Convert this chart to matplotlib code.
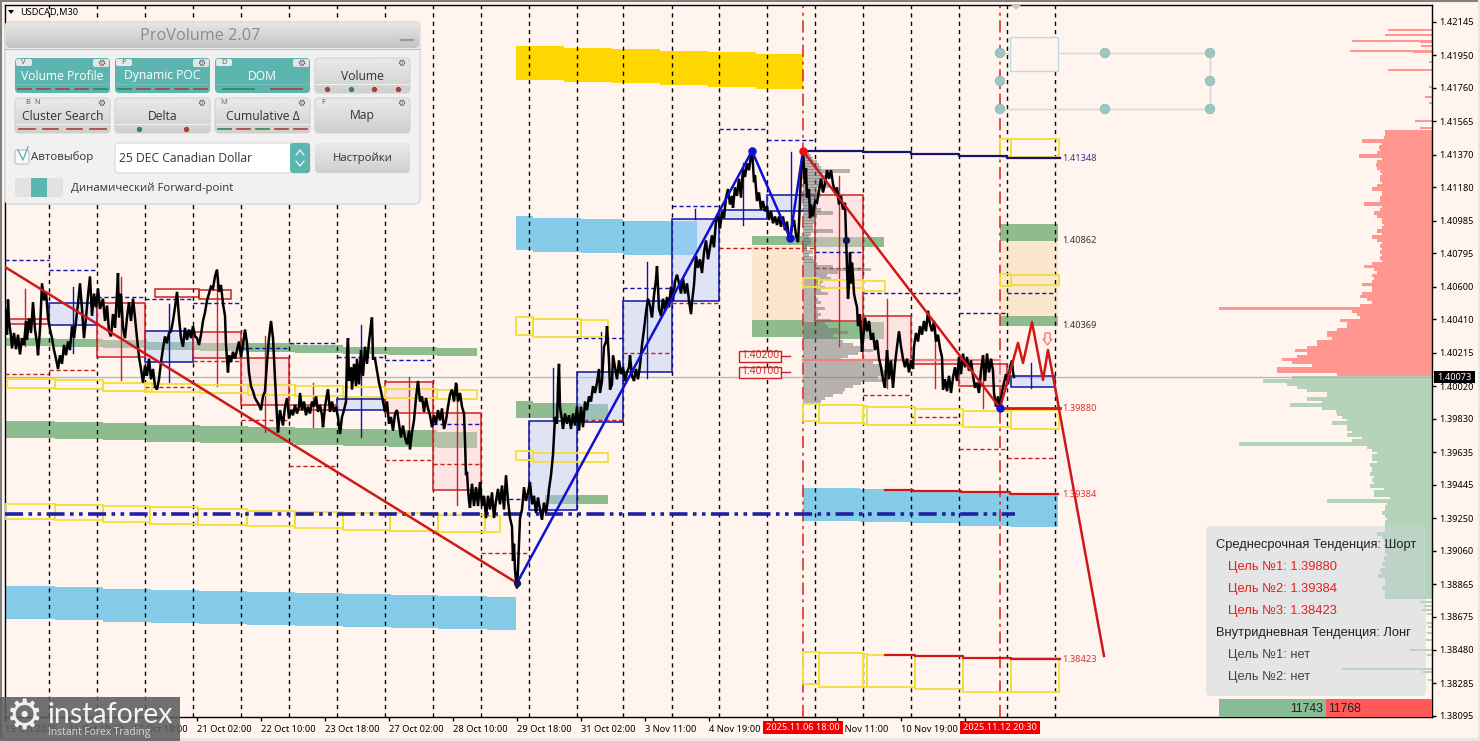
import numpy as np
import matplotlib
matplotlib.use("Agg")
import matplotlib.pyplot as plt
from matplotlib.patches import Rectangle, FancyBboxPatch, Circle, Polygon

# prices are kept as 5 digit points after the "1." (40073 -> 1.40073)
BG = "#FFF5EE"
GREEN = "#8FBC8F"
SKY = "#85CCE9"
GOLD = "#FFD700"
ORANGE = "#FBE8CC"
YELLOW = "#F2DE3A"
NAVY = "#1014A8"
RED = "#D01818"
TEAL = "#5CB6AF"

price_ticks = ["1.42145", "1.41950", "1.41760", "1.41565", "1.41370", "1.41180", "1.40985", "1.40795",
               "1.40600", "1.40410", "1.40215", "1.40020", "1.39830", "1.39635", "1.39445", "1.39250",
               "1.39060", "1.38865", "1.38675", "1.38480", "1.38285", "1.38095"]
time_tick_x = [5, 69, 133, 197, 261, 325, 389, 453, 517, 581, 645, 709, 773, 837, 901, 965]
time_ticks = ["15 Oct 2025", "16 Oct 10:00", "17 Oct 18:00", "21 Oct 02:00", "22 Oct 10:00", "23 Oct 18:00",
              "27 Oct 02:00", "28 Oct 10:00", "29 Oct 18:00", "31 Oct 02:00", "3 Nov 11:00", "4 Nov 19:00",
              "", "6 Nov 11:00", "10 Nov 19:00", ""]
day_lines = [49, 97, 145, 193, 241, 289, 337, 385, 433, 481, 529, 577, 623, 672, 719, 767, 815, 863, 911, 959, 1007, 1055]
session_lines = [803, 1000]

# price line, (column, points)
line_x = [5, 6, 7, 8, 9, 11, 12, 14, 16, 18, 20, 22, 24, 26, 27, 29, 31, 33, 35, 37, 38, 40, 42, 44, 46, 48, 50, 52, 54, 56, 58,
          60, 62, 64, 66, 68, 70, 72, 74, 76, 78, 80, 82, 84, 86, 88, 90, 92, 94, 96, 98, 100, 103, 105, 107, 109, 111, 113, 115,
          117, 118, 119, 121, 123, 125, 127, 129, 131, 133, 135, 137, 139, 141, 143, 145, 147, 149, 151, 153, 155, 157, 159, 161,
          163, 165, 167, 169, 171, 173, 175, 177, 179, 181, 183, 185, 187, 189, 191, 193, 195, 197, 199, 201, 203, 205, 207, 209,
          211, 213, 215, 217, 219, 221, 223, 225, 226, 228, 229, 231, 233, 235, 237, 239, 241, 243, 245, 247, 249, 251, 253, 255,
          257, 259, 261, 263, 265, 267, 269, 271, 273, 275, 276, 277, 278, 280, 282, 283, 285, 287, 289, 291, 293, 295, 297, 299,
          300, 302, 304, 306, 308, 310, 312, 314, 316, 318, 320, 322, 323, 325, 327, 328, 330, 332, 334, 336, 338, 340, 342, 344,
          346, 347, 348, 349, 351, 352, 354, 356, 357, 359, 361, 363, 365, 367, 369, 371, 372, 373, 375, 377, 379, 381, 383, 385,
          387, 389, 391, 393, 395, 397, 399, 401, 403, 405, 407, 409, 410, 412, 414, 416, 418, 420, 422, 424, 426, 428, 430, 432,
          434, 436, 438, 440, 442, 444, 446, 448, 450, 452, 454, 456, 458, 460, 462, 464, 465, 466, 467, 468, 469, 470, 472, 474,
          476, 478, 480, 482, 484, 486, 488, 490, 492, 494, 496, 498, 500, 502, 504, 506, 508, 510, 512, 513, 514, 515, 516, 517,
          518, 520, 522, 524, 526, 528, 530, 532, 534, 536, 538, 540, 542, 544, 546, 548, 549, 551, 553, 555, 557, 558, 559, 560,
          562, 563, 565, 567, 569, 571, 573, 575, 577, 579, 581, 583, 585, 587, 589, 591, 593, 595, 597, 599, 600, 602, 604, 606,
          607, 609, 610, 612, 613, 615, 617, 619, 621, 623, 625, 627, 629, 630, 632, 634, 636, 638, 640, 642, 644, 646, 648, 650,
          652, 654, 656, 657, 659, 661, 663, 665, 667, 669, 671, 673, 675, 677, 679, 681, 683, 685, 687, 689, 691, 692, 694, 696,
          698, 700, 702, 704, 706, 708, 710, 712, 714, 716, 718, 720, 722, 724, 726, 728, 730, 732, 733, 735, 737, 739, 741, 743,
          745, 747, 749, 751, 752, 754, 755, 757, 759, 761, 763, 765, 767, 769, 771, 773, 775, 777, 779, 781, 783, 785, 787, 789,
          790, 792, 794, 796, 798, 799, 800, 801, 802, 803, 804, 805, 806, 807, 809, 810, 811, 813, 815, 817, 819, 821, 823, 825,
          827, 829, 831, 833, 835, 837, 839, 841, 843, 845, 846, 847, 848, 849, 850, 851, 852, 853, 854, 855, 857, 858, 860, 862,
          863, 865, 867, 869, 871, 873, 875, 877, 879, 881, 883, 885, 886, 887, 888, 889, 891, 893, 895, 897, 899, 901, 903, 905,
          907, 909, 911, 913, 914, 916, 918, 920, 922, 924, 926, 928, 930, 932, 934, 936, 938, 940, 942, 943, 945, 947, 949, 951,
          953, 955, 957, 959, 961, 963, 965, 967, 969, 971, 973, 975, 977, 979, 981, 983, 985, 987, 989, 991, 993, 994, 996, 998,
          1000, 1002, 1004, 1006, 1008, 1010, 1012, 1013, 1014]
line_pts = [40360, 40470, 40320, 40525, 40400, 40310, 40240, 40330, 40235, 40320, 40205, 40300, 40260, 40400, 40290, 40415, 40330, 40510, 40350, 40270, 40200, 40350, 40620, 40520, 40570, 40420, 40350, 40300, 40230, 40180, 40120,
            40200, 40150, 40260, 40200, 40280, 40230, 40370, 40300, 40400, 40500, 40620, 40470, 40300, 40420, 40550, 40660, 40430, 40560, 40480, 40590, 40470, 40530, 40400, 40490, 40340, 40310, 40440, 40360,
            40560, 40680, 40420, 40560, 40360, 40300, 40420, 40510, 40400, 40530, 40420, 40300, 40190, 40120, 40040, 40140, 40080, 40180, 40060, 40120, 40020, 40000, 40060, 40160,
            40240, 40310, 40270, 40330, 40340, 40400, 40480, 40570, 40420, 40300, 40250, 40360, 40290, 40350, 40300, 40370, 40310, 40300, 40260, 40320, 40400, 40450, 40520, 40560,
            40600, 40590, 40660, 40700, 40570, 40610, 40500, 40430, 40260, 40100, 40200, 40160, 40220, 40180, 40230, 40280, 40190, 40260, 40350, 40270, 40100, 40020, 39990, 39950,
            39930, 39910, 39880, 39960, 39990, 40160, 40300, 40400, 40300, 40060, 39950, 39840, 39750, 39880, 39820, 39790, 39900, 39950, 39830, 39880, 39850, 39910, 39860, 39900,
            39980, 39880, 39930, 39850, 39900, 39860, 39930, 39900, 39960, 39870, 39910, 39850, 39780, 39900, 39970, 40000, 39870, 39930, 39870, 39900, 39840, 39740, 39840, 39880,
            39930, 40200, 40300, 40050, 40130, 40000, 40150, 40020, 40180, 40030, 40230, 40080, 40250, 40150, 40280, 40380, 40420, 40180, 40180, 40110, 40040, 39990, 39930, 39870,
            39930, 39800, 39840, 39760, 39860, 39880, 39800, 39720, 39790, 39720, 39680, 39760, 39650, 39750, 39820, 39950, 40050, 39930, 39960, 39870, 39950, 39890, 39850, 39780,
            39850, 39800, 39880, 39820, 39890, 39770, 39820, 39900, 39970, 40000, 39930, 40040, 39930, 39980, 39900, 39860, 39700, 39500, 39520, 39420, 39350, 39310, 39450, 39320,
            39430, 39320, 39460, 39320, 39380, 39250, 39380, 39300, 39400, 39250, 39350, 39420, 39330, 39440, 39300, 39500, 39350, 39250, 39200, 39000, 39100, 38950, 38880, 38840,
            38950, 39250, 39300, 39430, 39350, 39400, 39460, 39330, 39380, 39280, 39370, 39300, 39240, 39340, 39280, 39360, 39420, 39500, 39620, 39840, 39800, 40030, 40150, 39900,
            39820, 39770, 39860, 39800, 39850, 39770, 39860, 39790, 39900, 39760, 39900, 39780, 39930, 39880, 39960, 39930, 40020, 39980, 40040, 40120, 39980, 40050, 40250, 40280,
            40370, 40170, 40000, 40030, 40200, 40130, 40060, 40170, 40090, 40130, 40050, 40100, 40130, 40200, 40080, 40050, 40120, 40060, 40140, 40260, 40350, 40450, 40530, 40490,
            40420, 40550, 40640, 40720, 40470, 40430, 40530, 40460, 40540, 40480, 40600, 40520, 40630, 40670, 40620, 40560, 40650, 40560, 40620, 40520, 40440, 40510, 40610, 40780,
            40710, 40760, 40680, 40800, 40870, 40760, 40830, 40900, 40830, 40990, 41010, 40940, 41040, 41000, 41120, 41170, 41080, 41130, 41060, 41180, 41130, 41230, 41120, 41290,
            41240, 41320, 41280, 41370, 41410, 41210, 41250, 41100, 41150, 41050, 41100, 41040, 41070, 40990, 41040, 40970, 41010, 40960, 41010, 40950, 41010, 40930, 40980, 40880,
            40870, 40950, 40990, 40900, 40860, 40970, 41100, 41270, 41330, 41400, 41280, 41200, 41290, 41120, 41170, 41000, 41080, 41010, 41100, 41090, 41160, 41230, 41150, 41200,
            41280, 41230, 41280, 41200, 41150, 41180, 41080, 41130, 41050, 41090, 40900, 40720, 40530, 40620, 40800, 40620, 40740, 40660, 40560, 40530, 40480, 40370, 40440, 40220,
            40290, 40420, 40340, 40400, 40290, 40330, 40230, 40290, 40180, 40130, 40060, 40010, 40130, 40230, 40160, 40060, 40170, 40010, 40150, 40250, 40340, 40250, 40180, 40130,
            40180, 40100, 40170, 40120, 40250, 40330, 40280, 40370, 40320, 40400, 40340, 40460, 40380, 40340, 40400, 40280, 40320, 40240, 40190, 40000, 40060, 39990, 40080, 39980,
            40070, 40130, 40050, 40190, 40090, 40210, 40130, 40190, 40110, 40170, 40080, 40010, 40040, 39980, 40110, 40200, 40050, 40210, 40100, 40180, 40110, 39980, 39900, 39960,
            39890, 39990, 40040, 40090, 40030, 40130, 40170, 40100, 40073]

# stepped zones: column edges, top and bottom of each step
green_a_x = [5, 55, 103, 147, 200, 248, 295, 343, 388, 437, 477]
green_a_top = [40301, 40295, 40289, 40278, 40272, 40272, 40260, 40248, 40248, 40242]
green_a_bot = [40254, 40248, 40242, 40231, 40225, 40219, 40213, 40207, 40202, 40196]
green_b_x = [5, 55, 103, 147, 200, 248, 295, 343, 388, 437, 477]
green_b_top = [39816, 39811, 39805, 39793, 39787, 39781, 39776, 39770, 39764, 39752]
green_b_bot = [39717, 39711, 39706, 39694, 39688, 39688, 39676, 39671, 39665, 39659]
sky_c_x = [5, 55, 103, 151, 199, 247, 295, 343, 391, 438, 487, 516]
sky_c_top = [38853, 38848, 38836, 38830, 38824, 38818, 38813, 38807, 38801, 38795, 38789]
sky_c_bot = [38661, 38655, 38643, 38637, 38632, 38626, 38620, 38614, 38608, 38603, 38597]
gold_x = [516, 564, 612, 660, 708, 756, 803]
gold_top = [42005, 41993, 41987, 41976, 41970, 41958]
gold_bot = [41807, 41795, 41789, 41777, 41766, 41754]
sky_d_x = [516, 533, 581, 623, 697]
sky_d_top = [41013, 41001, 40995, 40984]
sky_d_bot = [40814, 40803, 40797, 40785]
sky_e_x = [803, 860, 910, 960, 1010, 1058]
sky_e_top = [39425, 39420, 39414, 39408, 39396]
sky_e_bot = [39233, 39227, 39221, 39204, 39198]
green_c_x = [516, 533, 580, 608]
green_c_top = [39933, 39921, 39916]
green_c_bot = [39834, 39834, 39822]
green_d_x = [545, 608]
green_d_top = [39385]
green_d_bot = [39332]
green_e_x = [752, 803, 884]
green_e_top = [40896, 40890]
green_e_bot = [40844, 40832]
green_f_x = [752, 803, 884]
green_f_top = [40406, 40394]
green_f_bot = [40307, 40295]
green_g_x = [1000, 1058]
green_g_top = [40966]
green_g_bot = [40867]
green_h_x = [1000, 1058]
green_h_top = [40429]
green_h_bot = [40371]
orange_a = [752, 803, 40838, 40406]
orange_b = [1000, 1058, 40867, 40429]

# candle style boxes: left, right, top, bottom, wick column, wick top, wick bottom
blue_boxes = [[49, 97, 40505, 40377, 73, 40598, 40213], [145, 193, 40342, 40161, 169, 40499, 40044],
              [337, 385, 39945, 39881, 361, 40377, 39723], [529, 577, 39816, 39297, 553, 40126, 39816],
              [577, 623, 40103, 39811, 601, 40336, 40103], [623, 672, 40517, 40103, 647, 40744, 40068],
              [672, 719, 40995, 40517, 695, 41054, 40995], [719, 767, 41048, 40995, 743, 41322, 40960],
              [767, 815, 41135, 41042, 791, 41386, 40873], [1011, 1055, 40079, 40015, 1031, 40155, 40009]]
red_boxes = [[5, 49, 40412, 40383, 25, 40587, 40254], [97, 145, 40505, 40190, 121, 40657, 40056],
             [193, 241, 40336, 40184, 217, 40651, 40021], [241, 289, 40184, 39910, 265, 40312, 39752],
             [289, 337, 39910, 39881, 313, 40039, 39781], [385, 433, 40044, 39863, 409, 40073, 39694],
             [433, 481, 39863, 39414, 457, 40033, 39326], [815, 863, 41135, 40400, 839, 41246, 40254],
             [863, 911, 40429, 40172, 887, 40529, 40009], [911, 959, 40172, 40149, 935, 40365, 40009],
             [959, 1007, 40149, 40021, 983, 40202, 39892]]
red_open = [[155, 199, 40587, 40540], [199, 231, 40581, 40529]]

yellow_boxes = [[7, 55, 40062, 40009], [55, 103, 40056, 40004], [103, 152, 40039, 39992], [145, 200, 40033, 39986],
                [200, 248, 40027, 39980], [248, 295, 40027, 39968], [295, 343, 40021, 39963], [343, 385, 40016, 39957],
                [385, 437, 40004, 39951], [437, 477, 39998, 39945],
                [5, 55, 39332, 39245], [55, 103, 39326, 39239], [103, 150, 39320, 39227], [150, 198, 39315, 39215],
                [198, 247, 39303, 39210], [247, 295, 39291, 39204], [295, 343, 39285, 39192], [343, 390, 39280, 39180],
                [390, 438, 39280, 39175], [438, 485, 39268, 39169], [485, 500, 39262, 39169],
                [516, 533, 40423, 40318], [533, 581, 40412, 40307], [581, 608, 40406, 40307],
                [516, 533, 39641, 39589], [533, 608, 39630, 39577],
                [803, 819, 40651, 40598], [819, 863, 40639, 40593], [863, 885, 40633, 40575],
                [803, 819, 39916, 39816], [819, 863, 39910, 39805], [863, 867, 39904, 39798], [867, 915, 39898, 39793],
                [915, 963, 39887, 39793], [963, 1011, 39875, 39781], [1011, 1059, 39881, 39770],
                [1000, 1011, 41462, 41357], [1011, 1059, 41462, 41357], [1000, 1011, 40674, 40604], [1011, 1059, 40669, 40610],
                [803, 819, 38468, 38282], [819, 863, 38462, 38264], [863, 867, 38456, 38264], [867, 915, 38451, 38264],
                [915, 963, 38445, 38252], [963, 1011, 38433, 38235], [1011, 1059, 38433, 38235]]

blue_dash = [[5, 49, 40756], [49, 97, 40698], [97, 145, 40540], [145, 193, 40529], [193, 241, 40505], [241, 289, 40242],
             [289, 337, 40272], [337, 385, 40190], [385, 433, 40172], [433, 481, 39799], [481, 529, 39361], [577, 623, 40301],
             [623, 672, 40593], [672, 719, 41071], [719, 767, 41521], [767, 815, 41456], [815, 863, 40803], [863, 959, 40563],
             [959, 1007, 40447], [1007, 1055, 40563]]
red_dash = [[5, 49, 40091], [49, 97, 40115], [145, 193, 40015], [193, 241, 40167], [241, 289, 39822], [289, 337, 39554],
            [385, 433, 39589], [433, 481, 39565], [481, 529, 39046], [577, 623, 39822], [623, 672, 40213], [672, 719, 40505],
            [719, 815, 40826], [815, 863, 40709], [863, 911, 39968], [911, 959, 39840], [959, 1007, 39653], [1007, 1055, 39601]]

# trend lines
down_a_x = [5, 517]
down_a_pts = [40715, 38871]
up_x = [517, 752, 790, 803]
up_pts = [38871, 41392, 40884, 41392]
down_b_x = [803, 1000]
down_b_pts = [41392, 39892]
forecast_x = [1000, 1018, 1023, 1032, 1043, 1048, 1055, 1104]
forecast_pts = [39892, 40272, 40155, 40394, 40056, 40231, 40015, 38445]

level_41348_x = [803, 863, 911, 959, 1007, 1060]
level_41348 = [41392, 41386, 41374, 41363, 41351]
level_39384_x = [885, 913, 961, 1010, 1058]
level_39384 = [39414, 39408, 39402, 39390]
level_38423_x = [885, 915, 963, 1011, 1060]
level_38423 = [38451, 38445, 38433, 38427]
level_39880 = [1000, 1060, 39892]
poc_line = [803, 1000, 40172]
dashdot_level = [5, 1015, 39274]
current_pts = 40073
level_labels = [("1.41348", 41351, "#3A3A88"), ("1.40862", 40867, "#333333"), ("1.40369", 40371, "#333333"),
                ("1.39880", 39892, "#E03030"), ("1.39384", 39390, "#E03030"), ("1.38423", 38427, "#E03030")]

# volume profiles, one row every 3 pixels going down
gray_start, red_start, green_start, vol_step = 41398, 41503, 40067, 17.5
gray_vol = [2, 6, 8, 10, 14, 16, 18, 47, 20, 22, 24, 22, 26, 14, 16, 18, 14, 10, 12, 14, 18, 30, 14, 12, 12, 10, 10, 30, 8, 6, 8, 8,
            4, 4, 10, 6, 10, 12, 14, 30, 68, 35, 24, 28, 20, 18, 22, 18, 25, 12, 15, 18, 12, 22, 15, 18, 15, 28, 22, 25, 35, 45, 30,
            35, 40, 50, 60, 70, 55, 45, 38, 70, 78, 80, 82, 82, 75, 80, 58, 50, 42, 40, 30, 22, 18]
red_vol = [47, 47, 48, 70, 50, 53, 52, 55, 73, 50, 55, 56, 55, 52, 50, 52, 52, 50, 55, 60, 50, 50, 52, 52, 68, 50, 52, 58, 55, 50, 50,
           48, 50, 55, 50, 60, 55, 50, 52, 50, 52, 50, 52, 50, 60, 68, 58, 55, 60, 58, 60, 70, 60, 60, 70, 72, 65, 60, 72, 213, 80,
           75, 72, 92, 85, 85, 95, 105, 105, 100, 115, 115, 125, 137, 125, 135, 150, 140, 120, 155, 155, 95]
green_vol = [140, 169, 145, 135, 125, 105, 105, 125, 110, 142, 110, 96, 95, 90, 85, 100, 85, 85, 80, 85, 70, 80, 193, 65, 60, 55, 60,
             60, 55, 62, 60, 60, 62, 58, 60, 58, 62, 48, 58, 58, 42, 105, 45, 47, 47, 50, 47, 45, 47, 47, 47, 47, 55, 50, 48, 46, 48,
             47, 47, 45, 48, 47, 50, 47, 52, 50, 54, 47, 47, 47, 50, 47, 47, 47]
red_sparse_pts = [42098, 42069, 42034, 42028, 42005, 41976, 41970, 41912, 41865, 41766, 41707, 41672, 41567, 41526]
red_sparse_vol = [44, 47, 80, 12, 11, 82, 19, 3, 44, 3, 7, 3, 17, 12]
green_sparse_pts = [38783, 38760, 38737, 38713, 38690, 38638, 38614, 38579, 38538, 38480, 38451, 38369, 38352, 38305]
green_sparse_vol = [10, 12, 8, 10, 5, 5, 4, 5, 6, 22, 5, 90, 10, 4]


def pr(v):
    return 1 + np.asarray(v, dtype=float) / 100000


fig = plt.figure(figsize=(14.8, 7.41), dpi=100, facecolor=BG)
plt.rcParams["font.family"] = ["Noto Sans", "DejaVu Sans"]
ax = fig.add_axes([5 / 1480, 1 - 717 / 741, 1427 / 1480, 712 / 741], facecolor=BG)
ax.set_xlim(5, 1432)
ax.set_ylim(pr(38089), pr(42244))


def zone(xs, tops, bots, color=GREEN, z=1):
    for i in range(len(tops)):
        ax.add_patch(Rectangle((xs[i], pr(bots[i])), xs[i + 1] - xs[i], pr(tops[i]) - pr(bots[i]),
                               fc=color, ec="none", zorder=z))


zone(green_a_x, green_a_top, green_a_bot)
zone(green_b_x, green_b_top, green_b_bot)
zone(sky_c_x, sky_c_top, sky_c_bot, SKY)
zone(gold_x, gold_top, gold_bot, GOLD)
zone(sky_d_x, sky_d_top, sky_d_bot, SKY)
zone(sky_e_x, sky_e_top, sky_e_bot, SKY)
zone(green_c_x, green_c_top, green_c_bot)
zone(green_d_x, green_d_top, green_d_bot)
zone(green_e_x, green_e_top, green_e_bot)
zone(green_f_x, green_f_top, green_f_bot)
zone(green_g_x, green_g_top, green_g_bot)
zone(green_h_x, green_h_top, green_h_bot)
zone(orange_a[:2], orange_a[2:3], orange_a[3:], ORANGE)
zone(orange_b[:2], orange_b[2:3], orange_b[3:], ORANGE)

# right hand volume, rows touch each other so they read as one block
row_h = pr(vol_step * 1.05) - 1
thin_h = pr(vol_step * 0.6) - 1
ax.barh(pr(red_start - vol_step * np.arange(len(red_vol))), red_vol, left=1432 - np.array(red_vol),
        height=row_h, color="#FF9690", ec="none", zorder=1)
ax.barh(pr(green_start - vol_step * np.arange(len(green_vol))), green_vol, left=1432 - np.array(green_vol),
        height=row_h, color="#B5D3B8", ec="none", zorder=1)
ax.barh(pr(red_sparse_pts), red_sparse_vol, left=1432 - np.array(red_sparse_vol), height=thin_h, color="#FF9690", ec="none", zorder=1)
ax.barh(pr(green_sparse_pts), green_sparse_vol, left=1432 - np.array(green_sparse_vol), height=thin_h, color="#B5D3B8", ec="none", zorder=1)

for x in day_lines:
    ax.axvline(x, color="black", lw=1, ls=(0, (3, 3)), zorder=2)
for x in session_lines:
    ax.axvline(x, color="#D82020", lw=1.1, ls=(0, (8, 3, 2, 3)), zorder=2)
ax.axhline(pr(current_pts), color="#B8B8B8", lw=1, zorder=2)

for b in blue_boxes:
    ax.add_patch(Rectangle((b[0], pr(b[3])), b[1] - b[0], pr(b[2]) - pr(b[3]), fc="#B1CAFF", alpha=0.4, ec="none", zorder=3))
    ax.add_patch(Rectangle((b[0], pr(b[3])), b[1] - b[0], pr(b[2]) - pr(b[3]), fc="none", ec=NAVY, lw=1.1, zorder=3))
    ax.plot([b[4], b[4]], [pr(b[5]), pr(b[6])], color=NAVY, lw=1, zorder=3)
for b in red_boxes:
    ax.add_patch(Rectangle((b[0], pr(b[3])), b[1] - b[0], pr(b[2]) - pr(b[3]), fc="#FAC8D2", alpha=0.4, ec="none", zorder=3))
    ax.add_patch(Rectangle((b[0], pr(b[3])), b[1] - b[0], pr(b[2]) - pr(b[3]), fc="none", ec="#CC2222", lw=1.1, zorder=3))
    ax.plot([b[4], b[4]], [pr(b[5]), pr(b[6])], color="#CC2222", lw=1, zorder=3)
for b in red_open:
    ax.add_patch(Rectangle((b[0], pr(b[3])), b[1] - b[0], pr(b[2]) - pr(b[3]), fc="none", ec="#CC2222", lw=1.1, zorder=3))

for d in blue_dash:
    ax.plot(d[:2], pr([d[2], d[2]]), color=NAVY, lw=1, ls=(0, (3, 2)), zorder=3)
for d in red_dash:
    ax.plot(d[:2], pr([d[2], d[2]]), color="#C02020", lw=1, ls=(0, (3, 2)), zorder=3)

# gray profile from the session line
ax.barh(pr(gray_start - vol_step * np.arange(len(gray_vol))), gray_vol, left=803,
        height=row_h, color="#707070", ec="none", alpha=0.5, zorder=3)

ax.plot(poc_line[:2], pr([poc_line[2]] * 2), color="#F08080", lw=1.6, zorder=3)
for b in yellow_boxes:
    ax.add_patch(Rectangle((b[0], pr(b[3])), b[1] - b[0], pr(b[2]) - pr(b[3]), fc="none", ec=YELLOW, lw=1.3, zorder=4))

ax.plot(dashdot_level[:2], pr([dashdot_level[2]] * 2), color="#2020A0", lw=2.6, ls=(0, (5, 1.5, 1, 1.5, 1, 1.5)), zorder=4)
ax.plot(line_x, pr(line_pts), color="black", lw=1.8, solid_joinstyle="miter", zorder=5)

ax.plot(down_a_x, pr(down_a_pts), color=RED, lw=1.8, zorder=6)
ax.plot(up_x, pr(up_pts), color="#1010D0", lw=1.8, zorder=6)
ax.plot(down_b_x, pr(down_b_pts), color=RED, lw=1.8, zorder=6)
ax.plot(forecast_x, pr(forecast_pts), color=RED, lw=1.8, zorder=6)
ax.step(level_41348_x, pr(level_41348 + level_41348[-1:]), where="post", color="#14146E", lw=1.6, zorder=6)
ax.step(level_39384_x, pr(level_39384 + level_39384[-1:]), where="post", color=RED, lw=1.6, zorder=6)
ax.step(level_38423_x, pr(level_38423 + level_38423[-1:]), where="post", color=RED, lw=1.6, zorder=6)
ax.plot(level_39880[:2], pr([level_39880[2]] * 2), color=RED, lw=2, zorder=6)
ax.scatter([752, 790, 1000], pr([41392, 40884, 39892]), s=26, color="#1010D0", zorder=7)
ax.scatter([803], pr([41392]), s=26, color="#F01010", zorder=7)
ax.scatter([517, 846], pr([38871, 40872]), s=18, color="#12125A", zorder=7)

for txt, v, c in level_labels:
    ax.text(1062, pr(v), txt, color=c, fontsize=6.6, va="center", ha="left", zorder=7)

ax.yaxis.tick_right()
tick_vals = [int(t[2:]) for t in price_ticks]
ax.set_yticks(pr(tick_vals), price_ticks)
ax.set_xticks(time_tick_x, time_ticks, ha="left")
ax.tick_params(axis="y", length=3, width=1, labelsize=6.6, pad=2)
ax.tick_params(axis="x", length=3, width=1, labelsize=6.7, pad=2.5)
for sp in ax.spines.values():
    sp.set_linewidth(1)

# overlay in screen pixels for panels and labels
ui = fig.add_axes([0, 0, 1, 1], facecolor="none")
ui.set_xlim(0, 1480)
ui.set_ylim(741, 0)
ui.axis("off")


def rrect(x0, y0, x1, y1, fc, ec="none", r=4, z=10, lw=1, alpha=None):
    p = FancyBboxPatch((x0 + r, y0 + r), x1 - x0 - 2 * r, y1 - y0 - 2 * r, boxstyle=f"round,pad={r},rounding_size={r}",
                       fc=fc, ec=ec, lw=lw, zorder=z, alpha=alpha)
    ui.add_patch(p)
    return p


def grad(x0, y0, x1, y1, top, bot, z=10, r=4):
    p = rrect(x0, y0, x1, y1, "none", r=r, z=z)
    t = np.array(matplotlib.colors.to_rgb(top))
    b = np.array(matplotlib.colors.to_rgb(bot))
    img = np.linspace(0, 1, 32)[:, None, None] * (b - t)[None, None, :] + t[None, None, :]
    im = ui.imshow(img, extent=(x0, x1, y1, y0), aspect="auto", zorder=z, interpolation="bilinear")
    im.set_clip_path(p)
    return im


# window edges and the symbol caption
ui.plot([0, 1480], [0.5, 0.5], color="#808080", lw=1.5, zorder=9)
ui.plot([1, 1], [0, 741], color="#808080", lw=1.5, zorder=9)
ui.add_patch(Rectangle((1478, 0), 2, 741, fc="#E6E6E6", zorder=9))
ui.add_patch(Rectangle((0, 738), 1480, 3, fc="#E6E6E6", zorder=9))
ui.add_patch(Polygon([[8, 10], [14, 10], [11, 14]], fc="black", zorder=9))
ui.text(20, 12.5, "USDCAD,M30", fontsize=6.6, va="center", color="black", zorder=9)

# red time labels on the bottom axis
for x0, x1, t in [(763, 843, "2025.11.06 18:00"), (960, 1040, "2025.11.12 20:30")]:
    ui.add_patch(Rectangle((x0, 721), x1 - x0, 13, fc="#F00000", zorder=9))
    ui.text((x0 + x1) / 2, 727.5, t, color="white", fontsize=6.6, ha="center", va="center", zorder=9)

# current price tag
ui.add_patch(Rectangle((1434, 371), 41, 12, fc="black", zorder=9))
ui.text(1454.5, 377, "1.40073", color="white", fontsize=6.6, ha="center", va="center", zorder=10)

# 1.40200 / 1.40100 tags
for y, t in [(356, "1.40200"), (372, "1.40100")]:
    ui.add_patch(Rectangle((739, y - 5.5), 42, 11, fc=BG, ec="#D02020", lw=1, zorder=8))
    ui.plot([781, 790], [y, y], color="#D02020", lw=1, zorder=8)
    ui.text(760, y, t, color="#D03030", fontsize=7.4, ha="center", va="center", zorder=8)

# down arrow
ui.add_patch(Polygon([[1045, 333], [1050, 333], [1050, 339], [1052, 339], [1047.5, 345], [1043, 339], [1045, 339]],
                     fc=BG, ec="#F08070", lw=1, zorder=8))

# handles at the top
ui.plot([1000, 1210, 1210, 1000], [53, 53, 109, 109], color="#D6D6D2", lw=1, zorder=8)
ui.add_patch(Rectangle((1010, 37), 48, 34, fc=BG, ec="#B8DCE4", lw=1, zorder=8))
for cx, cy in [(1000, 53), (1105, 53), (1210, 53), (1000, 81), (1210, 81), (1000, 109), (1105, 109), (1210, 109)]:
    ui.add_patch(Circle((cx, cy), 4.8, fc="#9CC8C4", ec="#8AB8B4", lw=0.5, zorder=9))
ui.add_patch(Polygon([[1011, 5], [1021, 5], [1016, 10]], fc="#C8C8C0", zorder=8))

# ProVolume panel
rrect(5, 22, 420, 204, "#F1F1F1", ec="#D8D8D8", r=5, z=10)
grad(6, 23, 419, 48, "#E6E6E6", "#C4C4C4", z=11, r=4)
ui.plot([5, 420], [48.5, 48.5], color="#BEBEBE", lw=0.8, zorder=12)
ui.text(200, 36, "ProVolume 2.07", color="#8C8C8C", fontsize=11.7, ha="center", va="center", family="Open Sans", zorder=12)
ui.plot([401, 413], [40, 40], color="#9A9A9A", lw=1.6, zorder=12)

btn_x = [15, 115, 215, 315]
row1_labels = ["Volume Profile", "Dynamic POC", "DOM", "Volume"]
row2_labels = ["Cluster Search", "Delta", "Cumulative Δ", "Map"]
row1_tabs = ["V", "P", "D", ""]
row2_tabs = ["B  N", "", "M", "F"]
row1_marks = [("l", "rrrrg"), ("l", "grrrr"), ("l", "gr"), ("d", "rgrr")]
row2_marks = [("l", "rrrr"), ("d", "gr"), ("l", "grgrr"), ("", "")]
mark_col = {"r": "#A84038", "g": "#2E8A50"}


def button(x, y, label, tab, marks, on):
    w, h = 95, 35
    if on:
        rrect(x, y, x + w, y + h, TEAL, r=4, z=12)
    else:
        grad(x, y, x + w, y + h, "#EAEAEA", "#CFCFCF", z=12, r=4)
        rrect(x, y, x + w, y + h, "none", ec="#D0D0D0", r=4, z=13, lw=0.7)
    ui.text(x + w / 2, y + 18, label, color="white" if on else "#333333", fontsize=8.7, ha="center", va="center",
            family="Open Sans", zorder=14)
    if tab:
        wt = 17 if len(tab) == 1 else 36
        rrect(x + 1, y + 1, x + wt, y + 8, "#E8E8E8", r=2, z=13)
        ui.text(x + wt / 2, y + 5, tab, color="#666666", fontsize=5.4, ha="center", va="center", zorder=14)
    rrect(x + w - 17, y + 1, x + w - 1, y + 9, "#E4E4E4", r=2, z=13)
    ui.text(x + w - 9, y + 5, "⚙", color="#555555", fontsize=6.5, ha="center", va="center", family="DejaVu Sans", zorder=14)
    kind, seq = marks
    if kind:
        seg = w / len(seq)
        ui.plot([x + 1, x + w - 1], [y + 26, y + 26], color="#FFFFFF" if not on else "#7CC6C0", lw=0.5, zorder=13)
        for i, c in enumerate(seq):
            cx = x + seg * (i + 0.5)
            if kind == "l":
                ui.plot([cx - seg * 0.33, cx + seg * 0.33], [y + 31, y + 31], color=mark_col[c], lw=1.2, zorder=14)
            else:
                ui.scatter([cx], [y + 31], s=8, color=mark_col[c], zorder=14)


for i in range(4):
    button(btn_x[i], 58, row1_labels[i], row1_tabs[i], row1_marks[i], i < 3)
    button(btn_x[i], 98, row2_labels[i], row2_tabs[i], row2_marks[i], False)

rrect(15, 150, 29, 164, "#FAFAFA", ec="#C8C8C8", r=2, z=12)
ui.plot([18, 23, 28], [150, 160, 147], color=TEAL, lw=1, zorder=13)
ui.text(31, 157, "Автовыбор", fontsize=8.2, color="#333333", va="center", family="Open Sans", zorder=13)
rrect(115, 143, 310, 173, "white", ec="#DDDDDD", r=4, z=12)
rrect(290, 143, 310, 173, TEAL, r=3, z=13)
ui.plot([296, 300, 304], [155, 150, 155], color="white", lw=0.8, zorder=14)
ui.plot([296, 300, 304], [161, 166, 161], color="white", lw=0.8, zorder=14)
ui.text(119, 158, "25 DEC Canadian Dollar", fontsize=8.7, color="#333333", va="center", family="Open Sans", zorder=13)
grad(315, 143, 410, 173, "#EAEAEA", "#CFCFCF", z=12)
ui.text(362.5, 158, "Настройки", fontsize=8.2, color="#333333", ha="center", va="center", family="Open Sans", zorder=14)
rrect(15, 178, 63, 197, "#E2E2E2", r=3, z=12)
ui.add_patch(Rectangle((31, 178), 16, 19, fc=TEAL, zorder=13))
ui.text(71, 188, "Динамический Forward-point", fontsize=8.2, color="#333333", va="center", family="Open Sans", zorder=13)

# trend info panel, the volume rows show through it
rrect(1206, 526, 1426, 696, "#C8D3DC", r=4, z=10, alpha=0.45)
info = [("Среднесрочная Тенденция: Шорт", 1216, 545, "#222222"), ("Цель №1: 1.39880", 1228, 567, "#E02020"),
        ("Цель №2: 1.39384", 1228, 589, "#E02020"), ("Цель №3: 1.38423", 1228, 611, "#E02020"),
        ("Внутридневная Тенденция: Лонг", 1216, 633, "#222222"), ("Цель №1: нет", 1228, 655, "#444444"),
        ("Цель №2: нет", 1228, 677, "#444444")]
for t, x, y, c in info:
    ui.text(x, y, t, color=c, fontsize=9.3, va="center", family="Liberation Sans", zorder=11)

# delta bar under the panel
ui.add_patch(Rectangle((1219, 699), 106.5, 18, fc="#88BC94", zorder=9))
ui.add_patch(Rectangle((1325.5, 699), 106.5, 18, fc="#FF5A58", zorder=9))
ui.text(1323, 709, "11743", color="#222222", fontsize=8.8, ha="right", va="center", family="Liberation Sans", zorder=10)
ui.text(1328, 709, "11768", color="#222222", fontsize=8.8, ha="left", va="center", family="Liberation Sans", zorder=10)

# watermark
ui.add_patch(Rectangle((0, 697), 180, 44, fc="#5E5E5E", alpha=0.88, zorder=20))
ui.text(24, 717, "⚙", color="#F0F0F0", fontsize=30, ha="center", va="center", family="DejaVu Sans", zorder=21)
ui.text(47, 715, "instaforex", color="#F4F4F4", fontsize=20.5, va="center", family="Lato", zorder=21)
ui.text(48, 732, "Instant Forex Trading", color="#D8D8D8", fontsize=7.4, va="center", family="Open Sans", zorder=21)

ui.set_xlim(0, 1480)
ui.set_ylim(741, 0)
fig.savefig("out.png", dpi=100, facecolor=BG)
